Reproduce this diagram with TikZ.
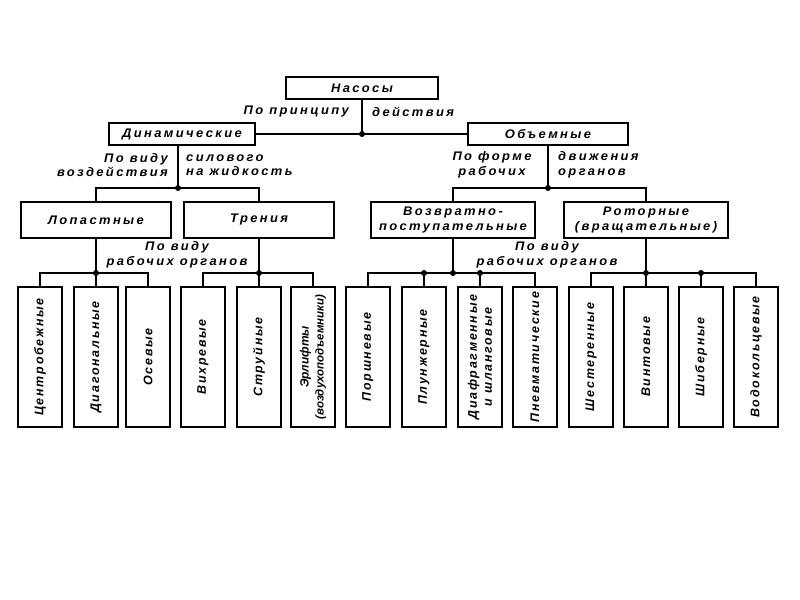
\documentclass[tikz,border=0pt]{standalone}
\usepackage{fontspec}
\setmainfont{Liberation Sans}
\newfontfamily\gost{Liberation Sans}[LetterSpace=14]
\newfontfamily\gostw{Liberation Sans}[LetterSpace=19, FakeStretch=1.04]

\tikzset{
 box/.style={draw, line width=2bp, inner sep=1pt, font=\gostw\bfseries\itshape\fontsize{12.5}{15}\selectfont},
 leaf/.style={box, rotate=90, minimum width=140bp, minimum height=44bp, align=center, font=\gost\bfseries\itshape\fontsize{12.5}{15}\selectfont},
 link/.style={line width=2bp},
 note/.style={inner sep=1pt, font=\gostw\bfseries\itshape\fontsize{12.5}{14.5}\selectfont},
 dot/.style={circle, fill, inner sep=0pt, minimum size=6bp}
}

\begin{document}
\begin{tikzpicture}[x=1bp, y=-1bp]
 \useasboundingbox (0,0) rectangle (800,600);

 % верхние уровни
 \node [box, minimum width=152bp, minimum height=22bp] (root) at (362,88) {Насосы};
 \node [box, minimum width=146bp, minimum height=22bp] (din) at (182,134) {Динамические};
 \node [box, minimum width=160bp, minimum height=22bp] (obj) at (548,134) {Объемные};

 \node [box, minimum width=150bp, minimum height=36bp] (lop) at (96,220) {Лопастные};
 \node [box, minimum width=150bp, minimum height=36bp] (tren) at (259,220) {Трения};
 \node [box, minimum width=164bp, minimum height=36bp, align=center] (voz) at (453,220) {Возвратно-\\поступательные};
 \node [box, minimum width=164bp, minimum height=36bp, align=center] (rot) at (646,220) {Роторные\\(вращательные)};

 % нижний ряд, y = 357
 \node [leaf] (l1) at (40,357) {Центробежные};
 \node [leaf] (l2) at (96,357) {Диагональные};
 \node [leaf] (l3) at (148,357) {Осевые};
 \node [leaf] (l4) at (203,357) {Вихревые};
 \node [leaf] (l5) at (259,357) {Струйные};
 \node [leaf] (l6) at (313,357) {\addfontfeature{LetterSpace=0}\fontsize{12}{15}\selectfont Эрлифты\\\addfontfeature{LetterSpace=0}\fontsize{11.5}{15}\selectfont(воздухоподъемники)};
 \node [leaf] (l7) at (368,357) {Поршневые};
 \node [leaf] (l8) at (424,357) {Плунжерные};
 \node [leaf] (l9) at (480,357) {Диафрагменные\\и шланговые};
 \node [leaf] (l10) at (535,357) {Пневматические};
 \node [leaf] (l11) at (591,357) {Шестеренные};
 \node [leaf] (l12) at (646,357) {Винтовые};
 \node [leaf] (l13) at (701,357) {Шиберные};
 \node [leaf] (l14) at (756,357) {Водокольцевые};

 % надписи у линий
 \node [note, anchor=east] (p1) at (350,112) {По принципу};
 \node [note, anchor=west] (p2) at (371,112) {действия};
 \node [note, anchor=east, align=right] (p3) at (169,165) {По виду\\воздействия};
 \node [note, anchor=west, align=left] (p4) at (185,165) {силового\\на жидкость};
 \node [note, align=center] (p5) at (492,165) {По форме\\рабочих};
 \node [note, anchor=west, align=left] (p6) at (557,165) {движения\\органов};
 \node [note, align=center] (p7) at (177,255) {По виду\\рабочих органов};
 \node [note, align=center] (p8) at (547,255) {По виду\\рабочих органов};

 % узлы
 \coordinate (j0) at (root.south |- din.east);
 \coordinate (jd) at (178,188);
 \coordinate (jo) at (obj.south |- jd);
 \coordinate (j1) at (96,273);
 \coordinate (j2) at (259,273);
 \coordinate (j3) at (453,273);
 \coordinate (j4) at (646,273);

 \draw [link] (root.south) -- (j0);
 \draw [link] (din.east) -- (obj.west);

 \draw [link] (din.south -| jd) -- (jd);
 \draw [link] (lop.north) |- (jd) -| (tren.north);
 \draw [link] (obj.south) -- (jo);
 \draw [link] (voz.north) |- (jo) -| (rot.north);

 \draw [link] (lop.south) -- (l2.east);
 \draw [link] (l1.east) |- (j1) -| (l3.east);
 \draw [link] (tren.south) -- (l5.east);
 \draw [link] (l4.east) |- (j2) -| (l6.east);
 \draw [link] (voz.south) -- (j3);
 \draw [link] (l7.east) |- (j3) -| (l10.east);
 \draw [link] (l8.east) -- (l8.east |- j3);
 \draw [link] (l9.east) -- (l9.east |- j3);
 \draw [link] (rot.south) -- (l12.east);
 \draw [link] (l11.east) |- (j4) -| (l14.east);
 \draw [link] (l13.east) -- (l13.east |- j4);

 % точки
 \node [dot] (d0) at (j0) {};
 \node [dot] (dd) at (jd) {};
 \node [dot] (do) at (jo) {};
 \node [dot] (d1) at (j1) {};
 \node [dot] (d2) at (j2) {};
 \node [dot] (d3) at (j3) {};
 \node [dot] (d4) at (j4) {};
 \node [dot] (d8) at (l8.east |- j3) {};
 \node [dot] (d9) at (l9.east |- j3) {};
 \node [dot] (d13) at (l13.east |- j4) {};
\end{tikzpicture}
\end{document}
